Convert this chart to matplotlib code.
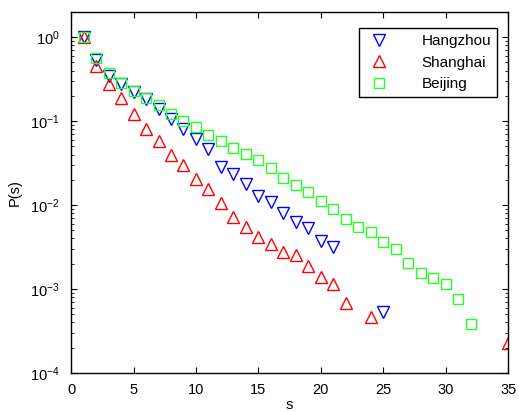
import matplotlib
matplotlib.use("Agg")
import matplotlib.pyplot as plt
from matplotlib.ticker import LogLocator, NullFormatter

plt.rcParams['font.family'] = ['Liberation Sans', 'DejaVu Sans']
plt.rcParams['mathtext.fontset'] = 'custom'
plt.rcParams['mathtext.rm'] = 'Liberation Sans'

# Hangzhou
s_hz = [1, 2, 3, 4, 5, 6, 7, 8, 9, 10, 11, 12, 13, 14, 15, 16, 17, 18, 19, 20, 21, 25]
p_hz = [1.0, 0.53, 0.345, 0.279, 0.224, 0.182, 0.139, 0.106, 0.080, 0.061, 0.0466,
        0.0287, 0.0235, 0.0176, 0.0128, 0.0108, 0.0080, 0.00627, 0.00532, 0.00373,
        0.00317, 0.000527]

# Shanghai
s_sh = [1, 2, 3, 4, 5, 6, 7, 8, 9, 10, 11, 12, 13, 14, 15, 16, 17, 18, 19, 20, 21, 22, 24, 35]
p_sh = [1.0, 0.449, 0.275, 0.187, 0.121, 0.080, 0.0584, 0.0398, 0.0303, 0.0207, 0.0157,
        0.0106, 0.00718, 0.00547, 0.00416, 0.00347, 0.00272, 0.00252, 0.00187, 0.00137,
        0.00113, 0.000685, 0.000468, 0.000230]

# Beijing
s_bj = list(range(1, 33))
p_bj = [1.0, 0.568, 0.377, 0.287, 0.229, 0.187, 0.156, 0.123, 0.101, 0.0840, 0.0688,
        0.0584, 0.0478, 0.0406, 0.0345, 0.0274, 0.0211, 0.0174, 0.0142, 0.0113, 0.00904,
        0.00688, 0.00547, 0.00480, 0.00367, 0.00303, 0.00205, 0.00153, 0.00134, 0.00113,
        0.000759, 0.000384]

fig = plt.figure(figsize=(5.19, 4.12), dpi=100)
ax = fig.add_axes([0.137, 0.095, 0.842, 0.876])

ax.semilogy(s_hz, p_hz, 'v', color='#0000ff', mfc='none', ms=8, mew=1, label='Hangzhou')
ax.semilogy(s_sh, p_sh, '^', color='#ff0000', mfc='none', ms=8, mew=1, label='Shanghai')
ax.semilogy(s_bj, p_bj, 's', color='#22ff22', mfc='none', ms=7, mew=1, label='Beijing')

ax.set_xlim(0, 35)
ax.set_ylim(1e-4, 2)
ax.set_xticks(range(0, 36, 5))
ax.yaxis.set_major_locator(LogLocator(base=10, numticks=10))
ax.yaxis.set_minor_locator(LogLocator(base=10, subs=range(2, 10), numticks=10))
ax.yaxis.set_minor_formatter(NullFormatter())
ax.tick_params(which='both', direction='in', top=True, right=True, labelsize=10.5)
ax.tick_params(which='major', length=4)
ax.tick_params(which='minor', length=2)
ax.tick_params(axis='x', pad=7)
ax.tick_params(axis='y', pad=8)
for sp in ax.spines.values():
    sp.set_linewidth(1)

ax.set_xlabel('s', fontsize=10.5, labelpad=1)
ax.set_ylabel('P(s)', fontsize=10.5, labelpad=6)

leg = ax.legend(loc='upper right', bbox_to_anchor=(0.975, 0.956), borderaxespad=0,
                fontsize=11, fancybox=False, edgecolor='black', framealpha=1,
                handletextpad=1.8, handlelength=1.9, borderpad=0.4, labelspacing=0.5)
leg.get_frame().set_linewidth(1)

fig.savefig('out.png', dpi=100)
